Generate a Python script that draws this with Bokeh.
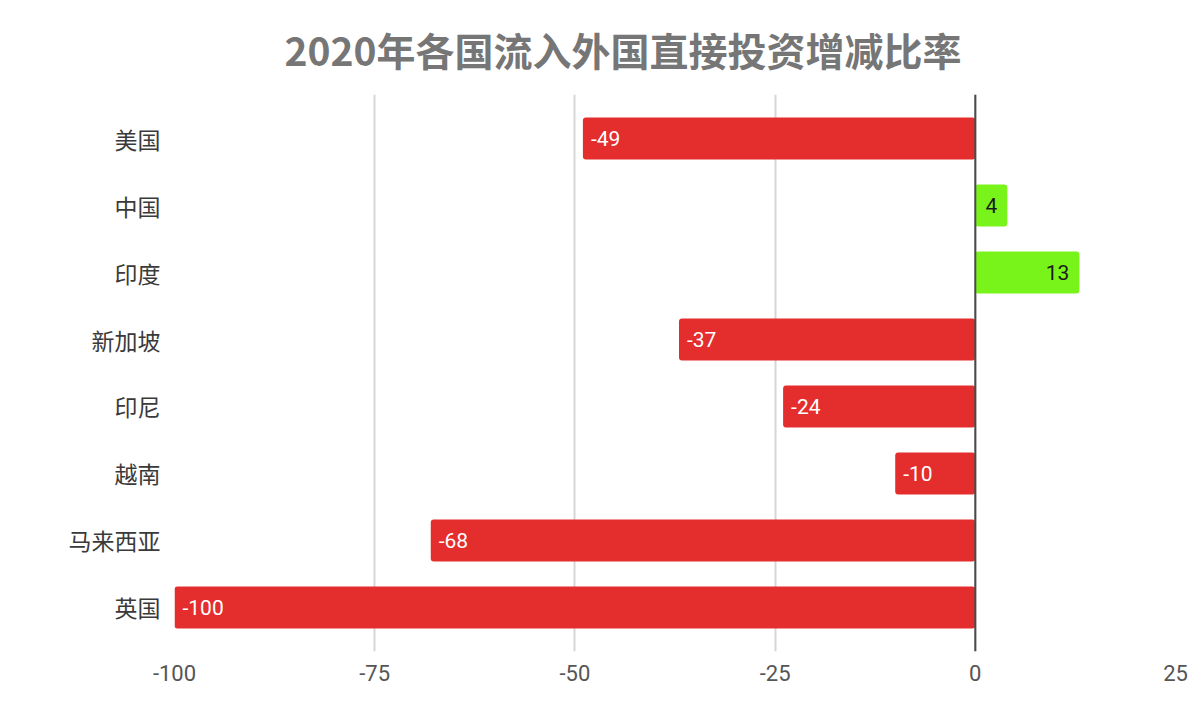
from bokeh.plotting import figure
from bokeh.models import ColumnDataSource, FactorRange, Range1d, Span, FixedTicker, Title
from bokeh.core.properties import value
from bokeh.embed import file_html
from bokeh.resources import INLINE

countries = ["美国", "中国", "印度", "新加坡", "印尼", "越南", "马来西亚", "英国"]
changes = [-49, 4, 13, -37, -24, -10, -68, -100]
x_ticks = [-100, -75, -50, -25, 0, 25]
x_tick_labels = ["-100", "-75", "-50", "-25", "0", "25"]
title_text = "2020年各国流入外国直接投资增减比率"

RED = "#e42d2d"
GREEN = "#78f41b"

colors = [RED if v < 0 else GREEN for v in changes]
label_colors = ["#ffffff" if v < 0 else "#1a1a1a" for v in changes]
label_align = ["left" if v < 0 else "right" for v in changes]
label_off = [8 if v < 0 else -10 for v in changes]
labels = [str(v) for v in changes]

src = ColumnDataSource(dict(country=countries, val=changes, zero=[0] * len(changes),
                            color=colors, lc=label_colors, la=label_align,
                            lo=label_off, lab=labels))

p = figure(width=1192, height=703, output_backend="svg", toolbar_location=None,
           y_range=FactorRange(*list(reversed(countries)), range_padding=0.157,
                               range_padding_units="absolute"),
           x_range=Range1d(-100, 25))
p.min_border_left = 174
p.min_border_right = 17
p.min_border_bottom = 52
p.min_border_top = 94
p.outline_line_color = None
p.background_fill_color = "white"
p.border_fill_color = "white"

p.title = Title(text=title_text, align="left", offset=110, standoff=36,
                text_font="Noto Sans CJK SC", text_font_size="39px",
                text_font_style="bold", text_color="#767676")

p.hbar(y="country", left="val", right="zero", height=0.63, source=src,
       fill_color="color", line_color=None, border_radius=3)

p.text(x="val", y="country", text="lab", source=src, x_offset="lo",
       text_align="la", text_baseline="middle", text_color="lc",
       text_font=value("Roboto"), text_font_size="21px")

p.add_layout(Span(location=0, dimension="height", line_color="#4a4a4a", line_width=2))

p.xaxis.ticker = FixedTicker(ticks=x_ticks)
p.xaxis.major_label_overrides = {t: s for t, s in zip(x_ticks, x_tick_labels)}
p.xgrid.ticker = FixedTicker(ticks=x_ticks)
p.xgrid.grid_line_color = "#d6d6d6"
p.xgrid.grid_line_width = 2
p.ygrid.grid_line_color = None

for ax in (p.xaxis[0], p.yaxis[0]):
    ax.axis_line_color = None
    ax.major_tick_line_color = None
    ax.minor_tick_line_color = None

p.xaxis.major_label_text_font = "Roboto"
p.xaxis.major_label_text_font_size = "22px"
p.xaxis.major_label_text_color = "#555555"
p.xaxis.major_label_standoff = 7

p.yaxis.major_label_text_font = "Noto Sans CJK SC"
p.yaxis.major_label_text_font_size = "23px"
p.yaxis.major_label_text_color = "#3a3a3a"
p.yaxis.major_label_standoff = 8

open("out.html", "w").write(file_html(p, INLINE))
